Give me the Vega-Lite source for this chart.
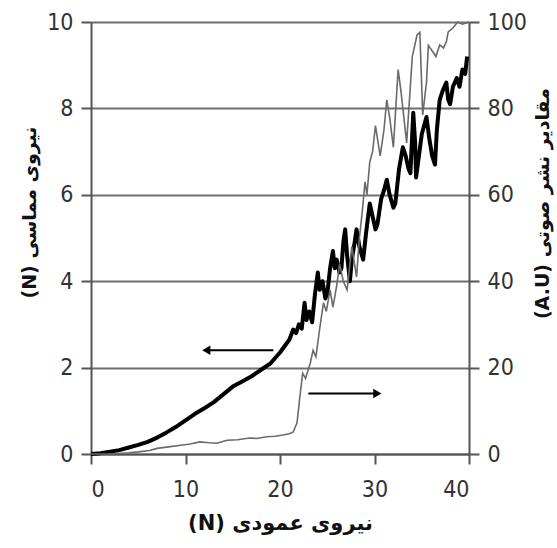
{
  "$schema": "https://vega.github.io/schema/vega-lite/v6.json",
  "width": 378,
  "height": 432,
  "autosize": {"type": "none"},
  "padding": {"left": 91, "top": 22, "right": 88, "bottom": 94},
  "background": "white",
  "config": {
    "view": {"stroke": null},
    "axis": {
      "labelFont": "DejaVu Sans Condensed, DejaVu Sans",
      "labelFontSize": 23,
      "labelColor": "#333333",
      "titleFont": "DejaVu Sans",
      "titleFontSize": 21,
      "titleFontWeight": "bold",
      "titleColor": "#111111",
      "domainColor": "#555555",
      "domainWidth": 2,
      "tickColor": "#555555",
      "tickWidth": 2,
      "tickSize": 10
    }
  },
  "datasets": {
    "friction": [
      {"normal": 0, "force": 0}, {"normal": 1, "force": 0.02}, {"normal": 2, "force": 0.05}, {"normal": 3, "force": 0.09},
      {"normal": 4, "force": 0.15}, {"normal": 5, "force": 0.21}, {"normal": 6, "force": 0.28}, {"normal": 7, "force": 0.38},
      {"normal": 8, "force": 0.5}, {"normal": 9, "force": 0.63}, {"normal": 10, "force": 0.78}, {"normal": 11, "force": 0.93},
      {"normal": 12, "force": 1.06}, {"normal": 13, "force": 1.2}, {"normal": 14, "force": 1.38}, {"normal": 15, "force": 1.56},
      {"normal": 16, "force": 1.68}, {"normal": 17, "force": 1.8}, {"normal": 18, "force": 1.95}, {"normal": 19, "force": 2.1},
      {"normal": 20, "force": 2.35}, {"normal": 20.5, "force": 2.5}, {"normal": 21, "force": 2.65}, {"normal": 21.4, "force": 2.88},
      {"normal": 21.7, "force": 2.8}, {"normal": 22, "force": 3.0}, {"normal": 22.3, "force": 2.9}, {"normal": 22.6, "force": 3.5},
      {"normal": 22.8, "force": 3.1}, {"normal": 23.1, "force": 3.3}, {"normal": 23.4, "force": 3.05}, {"normal": 23.7, "force": 3.7},
      {"normal": 24, "force": 4.2}, {"normal": 24.2, "force": 3.8}, {"normal": 24.5, "force": 4.0}, {"normal": 24.8, "force": 3.6},
      {"normal": 25, "force": 3.7}, {"normal": 25.3, "force": 4.3}, {"normal": 25.6, "force": 4.7}, {"normal": 25.8, "force": 4.3},
      {"normal": 26, "force": 4.5}, {"normal": 26.3, "force": 4.2}, {"normal": 26.5, "force": 4.3}, {"normal": 26.7, "force": 4.9},
      {"normal": 26.9, "force": 5.2}, {"normal": 27.1, "force": 4.6}, {"normal": 27.4, "force": 4.0}, {"normal": 27.6, "force": 4.5},
      {"normal": 27.9, "force": 4.9}, {"normal": 28.1, "force": 5.2}, {"normal": 28.4, "force": 4.8}, {"normal": 28.8, "force": 4.5},
      {"normal": 29.1, "force": 5.1}, {"normal": 29.5, "force": 5.8}, {"normal": 29.8, "force": 5.5}, {"normal": 30.1, "force": 5.2},
      {"normal": 30.3, "force": 5.3}, {"normal": 30.7, "force": 5.9}, {"normal": 31.0, "force": 6.1}, {"normal": 31.3, "force": 6.35},
      {"normal": 31.6, "force": 6.0}, {"normal": 32.0, "force": 5.7}, {"normal": 32.2, "force": 5.8}, {"normal": 32.6, "force": 6.6},
      {"normal": 33.0, "force": 7.1}, {"normal": 33.3, "force": 6.9}, {"normal": 33.6, "force": 6.6}, {"normal": 33.8, "force": 6.5},
      {"normal": 34.1, "force": 7.9}, {"normal": 34.3, "force": 7.2}, {"normal": 34.4, "force": 6.4}, {"normal": 34.7, "force": 6.9},
      {"normal": 35.0, "force": 7.4}, {"normal": 35.5, "force": 7.8}, {"normal": 35.8, "force": 7.3}, {"normal": 36.1, "force": 6.9},
      {"normal": 36.4, "force": 6.7}, {"normal": 36.6, "force": 7.5}, {"normal": 36.9, "force": 8.2}, {"normal": 37.2, "force": 8.4},
      {"normal": 37.6, "force": 8.6}, {"normal": 37.8, "force": 8.2}, {"normal": 38.0, "force": 8.1}, {"normal": 38.3, "force": 8.5},
      {"normal": 38.7, "force": 8.7}, {"normal": 39.0, "force": 8.5}, {"normal": 39.3, "force": 8.9}, {"normal": 39.6, "force": 8.8},
      {"normal": 39.8, "force": 9.2}
    ],
    "acoustic": [
      {"normal": 0, "ae": 0}, {"normal": 2, "ae": 0}, {"normal": 4, "ae": 0.3}, {"normal": 5, "ae": 0.5},
      {"normal": 6.2, "ae": 0.8}, {"normal": 7, "ae": 1.3}, {"normal": 8, "ae": 1.6}, {"normal": 9.7, "ae": 2.1},
      {"normal": 10.5, "ae": 2.3}, {"normal": 11.5, "ae": 2.8}, {"normal": 12.5, "ae": 2.6}, {"normal": 13.3, "ae": 2.5},
      {"normal": 14.4, "ae": 3.2}, {"normal": 15.5, "ae": 3.3}, {"normal": 16.8, "ae": 3.7}, {"normal": 17.5, "ae": 3.6},
      {"normal": 18.6, "ae": 4.0}, {"normal": 19.5, "ae": 4.1}, {"normal": 20.3, "ae": 4.4}, {"normal": 21, "ae": 4.7},
      {"normal": 21.4, "ae": 5.1}, {"normal": 21.8, "ae": 7.2}, {"normal": 22.1, "ae": 13.2}, {"normal": 22.4, "ae": 18.7},
      {"normal": 22.7, "ae": 17.5}, {"normal": 23.2, "ae": 21}, {"normal": 23.5, "ae": 24}, {"normal": 23.8, "ae": 22.5},
      {"normal": 24.2, "ae": 29}, {"normal": 24.6, "ae": 35}, {"normal": 24.9, "ae": 33}, {"normal": 25.3, "ae": 38},
      {"normal": 25.6, "ae": 34}, {"normal": 26.0, "ae": 39}, {"normal": 26.3, "ae": 44}, {"normal": 26.7, "ae": 40},
      {"normal": 27.1, "ae": 38}, {"normal": 27.6, "ae": 48}, {"normal": 28.1, "ae": 41}, {"normal": 28.4, "ae": 50},
      {"normal": 28.7, "ae": 56}, {"normal": 29, "ae": 63}, {"normal": 29.2, "ae": 60}, {"normal": 29.5, "ae": 67.6},
      {"normal": 29.8, "ae": 70}, {"normal": 30.1, "ae": 76}, {"normal": 30.6, "ae": 69}, {"normal": 31.0, "ae": 75},
      {"normal": 31.3, "ae": 82}, {"normal": 31.6, "ae": 78}, {"normal": 32, "ae": 71}, {"normal": 32.5, "ae": 89},
      {"normal": 32.8, "ae": 84}, {"normal": 33, "ae": 80}, {"normal": 33.4, "ae": 72}, {"normal": 34, "ae": 92},
      {"normal": 34.5, "ae": 97}, {"normal": 34.8, "ae": 97.6}, {"normal": 35.1, "ae": 78.5}, {"normal": 35.5, "ae": 86},
      {"normal": 35.7, "ae": 94.6}, {"normal": 36.2, "ae": 93}, {"normal": 36.5, "ae": 92}, {"normal": 36.9, "ae": 94.7},
      {"normal": 37.3, "ae": 94}, {"normal": 37.6, "ae": 95.4}, {"normal": 37.8, "ae": 97.7}, {"normal": 38.3, "ae": 98.6},
      {"normal": 38.8, "ae": 100}, {"normal": 39.3, "ae": 99.5}, {"normal": 40, "ae": 100}
    ],
    "arrows": [
      {"from": 19.3, "to": 12.2, "level": 2.4, "dir": "left"},
      {"from": 23.0, "to": 30.3, "level": 1.4, "dir": "right"}
    ]
  },
  "layer": [
    {
      "layer": [
        {
          "data": {"name": "friction"},
          "mark": {"type": "line", "color": "#000000", "strokeWidth": 4, "strokeJoin": "round"},
          "encoding": {
            "x": {
              "field": "normal", "type": "quantitative",
              "scale": {"domain": [0, 40], "nice": false},
              "axis": {
                "values": [0, 10, 20, 30, 40], "grid": false, "labelPadding": 14,
                "title": "‫نیروی عمودی (N)‬", "titleX": 189, "titleY": 69,
                "titleAlign": "center", "titleBaseline": "middle"
              }
            },
            "y": {
              "field": "force", "type": "quantitative",
              "scale": {"domain": [0, 10], "nice": false},
              "axis": {
                "orient": "left", "values": [0, 2, 4, 6, 8, 10],
                "grid": true, "gridColor": "#6e6e6e", "gridWidth": 2,
                "labelPadding": 8,
                "title": "‫نیروی مماسی (N)‬", "titleAngle": -90, "titleFontSize": 19,
                "titleX": -62, "titleY": 190, "titleAlign": "center", "titleBaseline": "middle"
              }
            }
          }
        },
        {
          "data": {"name": "arrows"},
          "mark": {"type": "rule", "color": "#000000", "strokeWidth": 2},
          "encoding": {
            "x": {"field": "from", "type": "quantitative"},
            "x2": {"field": "to"},
            "y": {"field": "level", "type": "quantitative"}
          }
        },
        {
          "data": {"name": "arrows"},
          "mark": {"type": "point", "filled": true, "color": "#000000", "opacity": 1, "size": 90},
          "encoding": {
            "x": {"field": "to", "type": "quantitative"},
            "y": {"field": "level", "type": "quantitative"},
            "shape": {
              "field": "dir", "type": "nominal",
              "scale": {"domain": ["left", "right"], "range": ["triangle-left", "triangle-right"]},
              "legend": null
            }
          }
        }
      ]
    },
    {
      "data": {"name": "acoustic"},
      "mark": {"type": "line", "color": "#6a6a6a", "strokeWidth": 1.6},
      "encoding": {
        "x": {"field": "normal", "type": "quantitative"},
        "y": {
          "field": "ae", "type": "quantitative",
          "scale": {"domain": [0, 100], "nice": false},
          "axis": {
            "orient": "right", "values": [0, 20, 40, 60, 80, 100],
            "grid": false, "labelPadding": 8,
            "title": "‫مقادیر نشر صوتی (A.U)‬", "titleAngle": -90, "titleFontSize": 19,
            "titleX": 73, "titleY": 181, "titleAlign": "center", "titleBaseline": "middle"
          }
        }
      }
    }
  ],
  "resolve": {"scale": {"y": "independent"}}
}
